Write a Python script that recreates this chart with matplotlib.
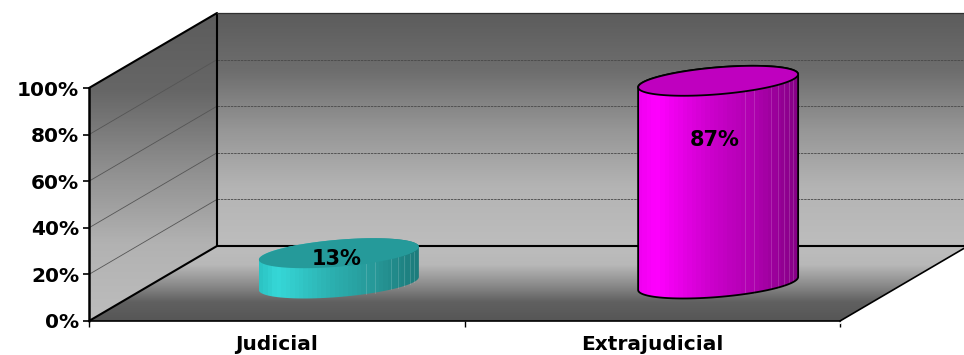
import numpy as np
import matplotlib
matplotlib.use("Agg")
import matplotlib.pyplot as plt
from matplotlib.colors import LinearSegmentedColormap as LSC
from matplotlib.patches import Polygon

categories = ["Judicial", "Extrajudicial"]
values = [13, 87]
value_labels = ["13%", "87%"]
y_ticks = [0, 20, 40, 60, 80, 100]

W, H = 964, 355
L, R, B, T = 89, 840, 321, 88            # front plane in pixels
fig = plt.figure(figsize=(W / 100, H / 100), dpi=100, facecolor="white")
ax = fig.add_axes([L / W, 1 - B / H, (R - L) / W, (B - T) / H])
SX, SY = 2 / (R - L), 100 / (B - T)      # data units per pixel
DX, DY = 128 * SX, 75 * SY               # depth shift of the plot box


def gradient(colors, extent, clip_pts, horizontal=False, n=256, z=1):
    cmap = LSC.from_list("g", colors)
    g = np.linspace(0, 1, n)
    arr = g[None, :] if horizontal else g[:, None]
    im = ax.imshow(arr, cmap=cmap, vmin=0, vmax=1, extent=extent, origin="upper",
                   aspect="auto", interpolation="nearest", zorder=z)
    poly = Polygon(clip_pts, closed=True, transform=ax.transData)
    im.set_clip_path(poly)
    im.set_clip_box(fig.bbox)
    return im


wall = ["#5c5c5c", "#6e6e6e", "#969696", "#b4b4b4", "#bdbdbd"]
ymax = 100
# back wall
gradient(wall, (DX, 2 + DX, DY, ymax + DY),
         [(DX, DY), (2 + DX, DY), (2 + DX, ymax + DY), (DX, ymax + DY)])
# side wall
gradient(["#5c5c5c", "#666666", "#8e8e8e", "#b2b2b2", "#bdbdbd"], (0, DX, 0, ymax + DY),
         [(0, 0), (DX, DY), (DX, ymax + DY), (0, ymax)])
# floor
gradient(["#bdbdbd", "#b8b8b8", "#8e8e8e", "#606060", "#565656"], (0, 2 + DX, 0, DY),
         [(0, 0), (DX, DY), (2 + DX, DY), (2, 0)])

# gridlines
for v in y_ticks[1:-1]:
    ax.plot([0, DX], [v, v + DY], color="#555555", lw=0.6, clip_on=False, zorder=2)
    ax.plot([DX, 2 + DX], [v + DY, v + DY], color="#484848", lw=0.6, ls=(0, (3, 1)),
            clip_on=False, zorder=2)

# frame
frame = dict(color="black", clip_on=False, zorder=3, solid_capstyle="round")
ax.plot([0, DX, DX], [ymax, ymax + DY, DY], lw=1.5, **frame)
ax.plot([DX, 2 + DX], [ymax + DY, ymax + DY], lw=0.9, color="#303030", clip_on=False, zorder=3)
ax.plot([0, DX, 2 + DX], [0, DY, DY], lw=1.5, **frame)
ax.plot([0, 0], [0, ymax], lw=1.8, **frame)
ax.plot([0, 2], [0, 0], lw=1.2, **frame)
ax.plot([2, 2 + DX], [-1.0, DY - 1.0], lw=1.2, color="white", clip_on=False, zorder=3)
ax.plot([2, 2 + DX], [0, DY], lw=1.2, **frame)

# cylinders
styles = [
    dict(side=[(0, "#2cc4c4"), (0.1, "#36d8d8"), (0.45, "#2cb0b0"), (0.75, "#269696"), (1, "#1c7c7c")],
         top="#259a9a", edge="none", lab=(-2, -6)),
    dict(side=[(0, "#f000f0"), (0.1, "#ff00ff"), (0.45, "#cc00cc"), (0.75, "#ac00ac"), (1, "#860086")],
         top="#bf00bf", edge="black", lab=(-3, -59)),
]
A, S, E = 80 * SX, 6.5 * SY, 13.5 * SY   # half width, tilt, half height of the ellipse
facets = np.radians([70, 63, 49, 42, 35, 28, 20])
for i, (val, st, txt) in enumerate(zip(values, styles, value_labels)):
    cx = 1 + (i - 0.5) * 1.01 + DX / 2
    cy = DY / 2

    def ell(t, base):
        return np.c_[cx + A * np.cos(t), base + S * np.cos(t) + E * np.sin(t)]

    t = np.linspace(0, 2 * np.pi, 120)
    lower = ell(np.linspace(np.pi, 2 * np.pi, 60), cy)
    upper = ell(np.linspace(0, np.pi, 60), cy + val)
    body = np.vstack([lower, upper])
    gradient(st["side"], (cx - A, cx + A, cy - 40, cy + val + 40), body, horizontal=True,
             n=36, z=4)
    for f in facets:
        p0, p1 = ell(np.array([-f]), cy)[0], ell(np.array([-f]), cy + val)[0]
        ax.plot([p0[0], p1[0]], [p0[1], p1[1]], color="white", alpha=0.18, lw=0.6,
                clip_on=False, zorder=4.5)
    ax.add_patch(Polygon(body, closed=True, fc="none", ec=st["edge"], lw=1.3,
                         clip_on=False, zorder=5))
    ax.add_patch(Polygon(ell(t, cy + val), closed=True, fc=st["top"], ec=st["edge"], lw=1.3,
                         clip_on=False, zorder=6))
    ax.annotate(txt, (cx, cy + val), xytext=st["lab"], textcoords="offset pixels",
                ha="center", va="center", fontsize=15, fontweight="bold",
                family="DejaVu Sans", color="black", zorder=7, annotation_clip=False)

ax.set_xlim(0, 2)
ax.set_ylim(0, 100)
ax.set_yticks(y_ticks, [f"{v}%" for v in y_ticks])
ax.set_xticks([0.5, 1.5], categories)
ax.set_xticks([0, 1, 2], minor=True)
ax.tick_params(axis="y", length=4, width=1.2, pad=3, labelsize=14.5)
ax.tick_params(axis="x", which="major", length=0, pad=10, labelsize=14.5)
ax.tick_params(axis="x", which="minor", length=4, width=1.0)
for lab in ax.get_xticklabels() + ax.get_yticklabels():
    lab.set_fontweight("bold")
    lab.set_family("DejaVu Sans")
for sp in ax.spines.values():
    sp.set_visible(False)
ax.patch.set_visible(False)

fig.savefig("out.png", dpi=100)
